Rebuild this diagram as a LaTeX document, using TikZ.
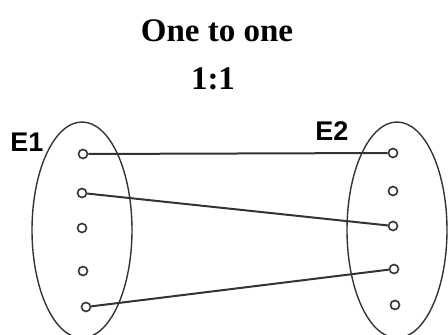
\documentclass[tikz,border=0pt]{standalone}
\usepackage{fontspec}
\setmainfont{Liberation Serif}
\setsansfont{Liberation Sans}
\usetikzlibrary{shapes.geometric}

\begin{document}
\begin{tikzpicture}[x=1pt,y=1pt,
  setbox/.style={ellipse,draw=black!80,line width=1.4pt,minimum width=100pt,minimum height=216pt,inner sep=0pt},
  elem/.style={circle,draw=black!80,line width=1.6pt,fill=white,minimum size=9pt,inner sep=0pt},
  link/.style={line width=2pt,draw=black!80},
  setlabel/.style={font=\sffamily\bfseries\fontsize{27}{27}\selectfont}]
  \useasboundingbox (0,0) rectangle (448,335);

  \node[font=\bfseries\fontsize{33}{33}\selectfont] (title) at (217,304) {One to one};
  \node[font=\bfseries\fontsize{33}{33}\selectfont] (ratio) at (213,256) {1:1};

  \node[setbox] (set1) at (82,105) {};
  \node[setbox] (set2) at (397,105) {};
  \node[setlabel] (lab1) at (27,193) {E1};
  \node[setlabel] (lab2) at (332,204) {E2};

  \node[elem] (a1) at (83,181) {};
  \node[elem] (a2) at (82,142) {};
  \node[elem] (a3) at (82,107) {};
  \node[elem] (a4) at (83,64) {};
  \node[elem] (a5) at (86,28) {};

  \node[elem] (b1) at (393,182) {};
  \node[elem] (b2) at (393,144) {};
  \node[elem] (b3) at (393,109) {};
  \node[elem] (b4) at (394,66) {};
  \node[elem] (b5) at (395,30) {};

  \draw[link] (a1) -- (b1);
  \draw[link] (a2) -- (b3);
  \draw[link] (a5) -- (b4);
\end{tikzpicture}
\end{document}
